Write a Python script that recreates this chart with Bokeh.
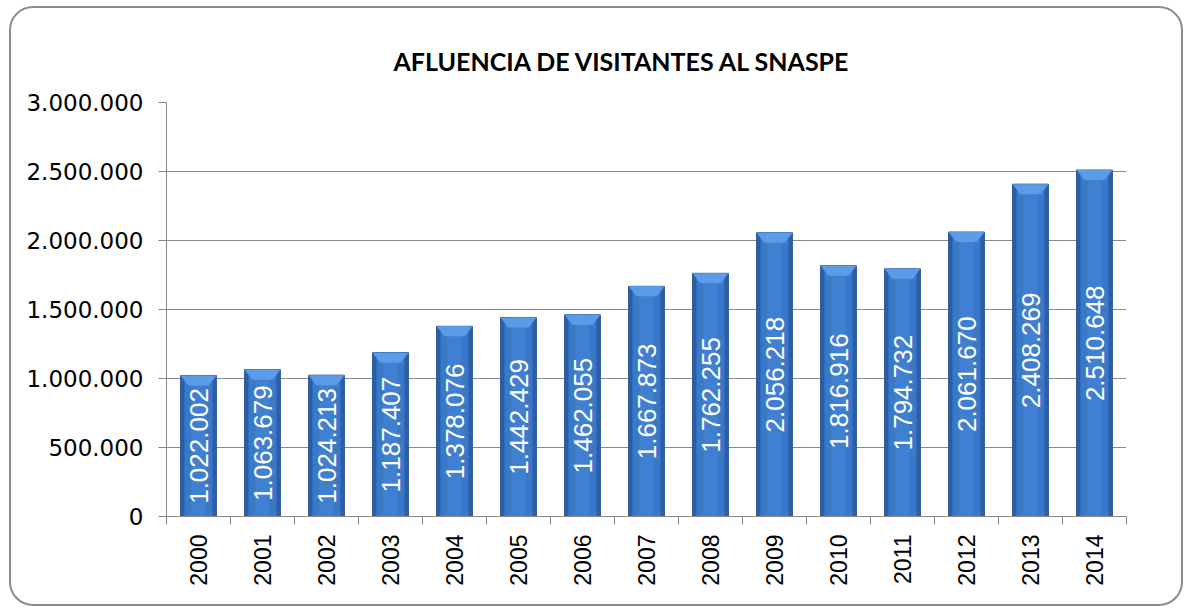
from bokeh.plotting import figure
from bokeh.models import FixedTicker, Range1d, ColumnDataSource
from bokeh.core.properties import value
from bokeh.embed import file_html
from bokeh.resources import INLINE
import math

years = ["2000", "2001", "2002", "2003", "2004", "2005", "2006", "2007",
         "2008", "2009", "2010", "2011", "2012", "2013", "2014"]
visitors = [1022002, 1063679, 1024213, 1187407, 1378076, 1442429, 1462055,
            1667873, 1762255, 2056218, 1816916, 1794732, 2061670, 2408269, 2510648]
y_ticks = [0, 500000, 1000000, 1500000, 2000000, 2500000, 3000000]
y_tick_labels = ["0", "500.000", "1.000.000", "1.500.000", "2.000.000",
                 "2.500.000", "3.000.000"]
title_text = "AFLUENCIA DE VISITANTES AL SNASPE"

n = len(years)
ymax = 3000000
frame_h = 414  # px
px = ymax / frame_h

p = figure(width=1174, height=600, output_backend="svg", toolbar_location=None,
           x_range=Range1d(0, n), y_range=Range1d(0, ymax),
           min_border_left=155, min_border_right=59, min_border_top=94,
           min_border_bottom=92)
p.styles = {"border": "2px solid #8c8c8c", "border-radius": "24px",
            "margin-left": "9px", "margin-top": "6px"}
p.border_fill_color = None
p.background_fill_color = None
p.outline_line_color = None

p.title.text = title_text
p.title.align = "left"
p.title.offset = 227
p.title.standoff = 53
p.title.text_font = "Lato"
p.title.text_font_style = "bold"
p.title.text_font_size = "25px"
p.title.text_color = "black"

centers = [i + 0.5 for i in range(n)]
bw = 0.56
labels = [f"{v:,}".replace(",", ".") for v in visitors]

src = ColumnDataSource(dict(x=centers, top=visitors, lab=labels,
                            mid=[v / 2 for v in visitors], year=years))

# bar body: dark outer, lighter inner
p.vbar(x="x", top="top", bottom=0, width=bw, source=src,
       fill_color="#2c5fa6", line_color="#2a5a9c", line_width=1)
p.vbar(x="x", top="top", bottom=0, width=bw * 0.78, source=src,
       fill_color="#3a78c8", line_color=None)
p.vbar(x="x", top="top", bottom=0, width=bw * 0.4, source=src,
       fill_color="#3f80d2", line_color=None)
# top bevel
bev = 10 * px
xs, ys = [], []
for c, v in zip(centers, visitors):
    xs.append([c - bw / 2, c + bw / 2, c + bw / 2 - 0.12, c - bw / 2 + 0.12])
    ys.append([v, v, v - bev, v - bev])
p.patches(xs, ys, fill_color="#5b9ce8", line_color=None)

p.text(x="x", y="mid", text="lab", source=src, angle=math.pi / 2,
       text_align="center", text_baseline="middle", text_color="white",
       text_font=value("Liberation Sans"), text_font_size="26px")

p.xgrid.visible = False
p.ygrid.ticker = FixedTicker(ticks=y_ticks[1:])
p.ygrid.grid_line_color = "#8a8a8a"
p.ygrid.grid_line_width = 1

xa = p.xaxis[0]
xa.ticker = FixedTicker(ticks=centers, minor_ticks=list(range(n + 1)))
xa.major_label_overrides = {c: y for c, y in zip(centers, years)}
xa.major_label_orientation = math.pi / 2
xa.major_tick_out = 0
xa.major_tick_in = 0
xa.minor_tick_out = 8
xa.minor_tick_in = 0
xa.minor_tick_line_color = "#868686"
xa.axis_line_color = "#868686"
xa.major_label_standoff = 10
xa.major_label_text_font = "Liberation Sans"
xa.major_label_text_font_size = "23px"
xa.major_label_text_color = "black"

ya = p.yaxis[0]
ya.ticker = FixedTicker(ticks=y_ticks)
ya.major_label_overrides = {t: l for t, l in zip(y_ticks, y_tick_labels)}
ya.major_tick_out = 8
ya.major_tick_in = 0
ya.minor_tick_out = 0
ya.minor_tick_in = 0
ya.major_tick_line_color = "#868686"
ya.axis_line_color = "#868686"
ya.major_label_standoff = 15
ya.major_label_text_font = "DejaVu Sans"
ya.major_label_text_font_size = "23px"
ya.major_label_text_color = "black"

open("out.html", "w").write(file_html(p, INLINE))
